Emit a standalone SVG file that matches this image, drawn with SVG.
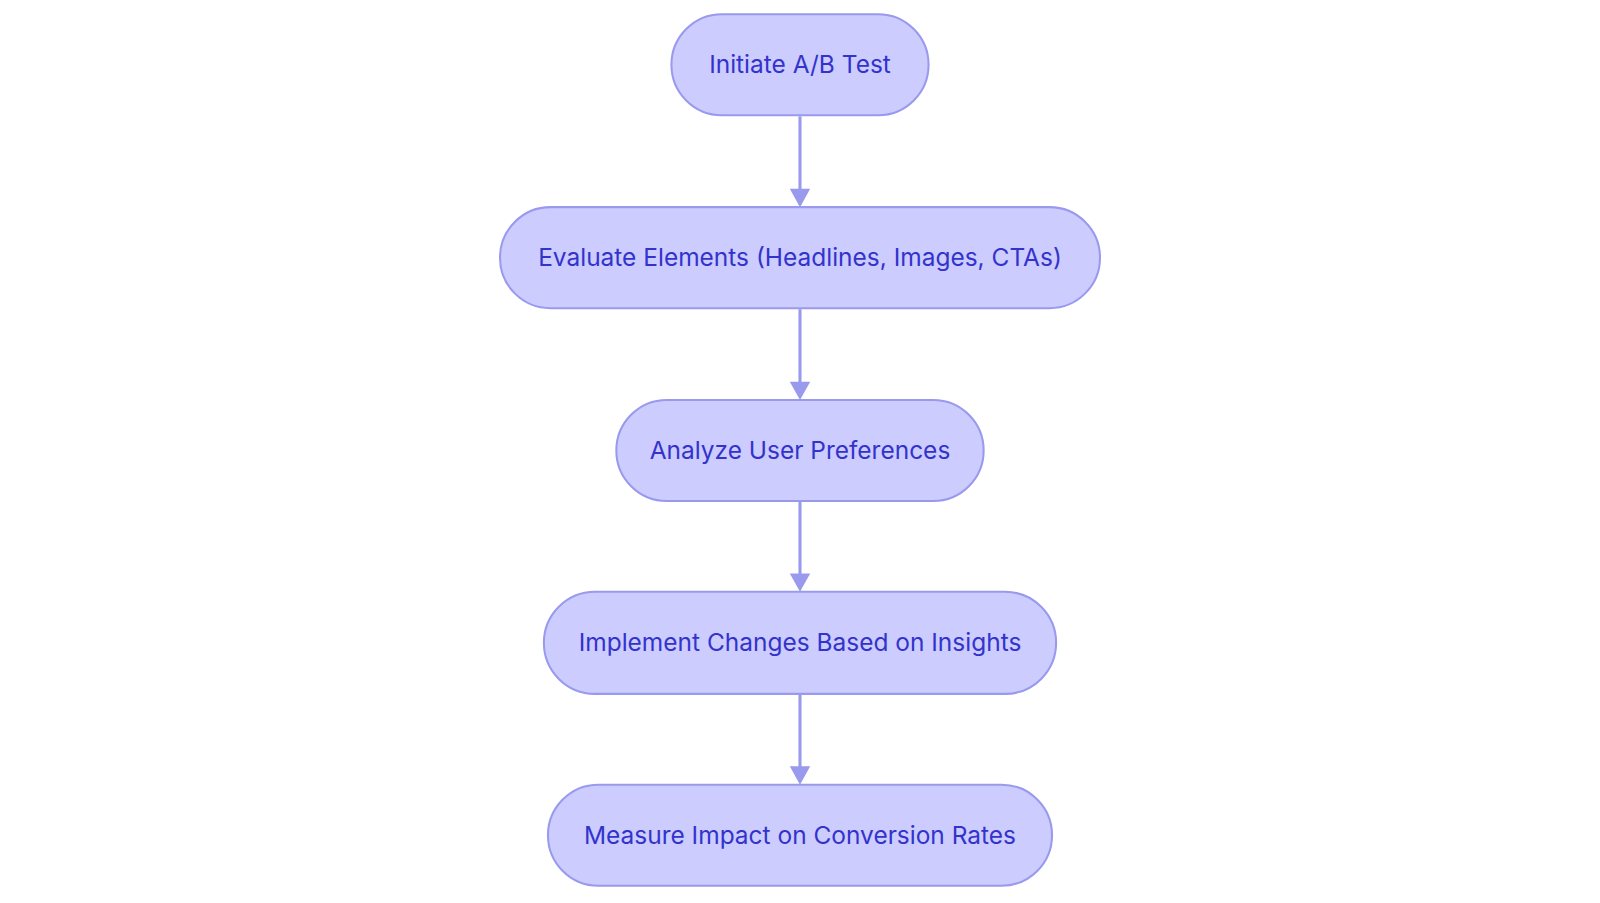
<svg xmlns="http://www.w3.org/2000/svg" width="1600" height="903" viewBox="0 0 1600 903">
<style>
.n rect{fill:#ccccff;stroke:#9999ee;stroke-width:2}
.n text{font-family:Inter,"Noto Sans",sans-serif;font-size:24px;fill:#3333cc;text-anchor:middle;dominant-baseline:central}
.e line{stroke:#9999ee;stroke-width:3}
.e path{fill:#9999ee}
</style>
<rect width="1600" height="903" fill="#fff"/>
<g transform="scale(1.0204)">
<g class="e">
<line x1="784" y1="114" x2="784" y2="188"/>
<path d="M774,185L794,185L784,203z"/>
<line x1="784" y1="303" x2="784" y2="377"/>
<path d="M774,374L794,374L784,392z"/>
<line x1="784" y1="492" x2="784" y2="565"/>
<path d="M774,562L794,562L784,580z"/>
<line x1="784" y1="681" x2="784" y2="754"/>
<path d="M774,751L794,751L784,769z"/>
</g>
<g class="n" id="n1"><rect x="658" y="14" width="252" height="99" rx="49.5"/><text x="784" y="63">Initiate A/B Test</text></g>
<g class="n" id="n2"><rect x="490" y="203" width="588" height="99" rx="49.5"/><text x="784" y="252">Evaluate Elements (Headlines, Images, CTAs)</text></g>
<g class="n" id="n3"><rect x="604" y="392" width="360" height="99" rx="49.5"/><text x="784" y="441">Analyze User Preferences</text></g>
<g class="n" id="n4"><rect x="533" y="580" width="502" height="100" rx="50"/><text x="784" y="629">Implement Changes Based on Insights</text></g>
<g class="n" id="n5"><rect x="537" y="769" width="494" height="99" rx="49.5"/><text x="784" y="818">Measure Impact on Conversion Rates</text></g>
</g>
</svg>
